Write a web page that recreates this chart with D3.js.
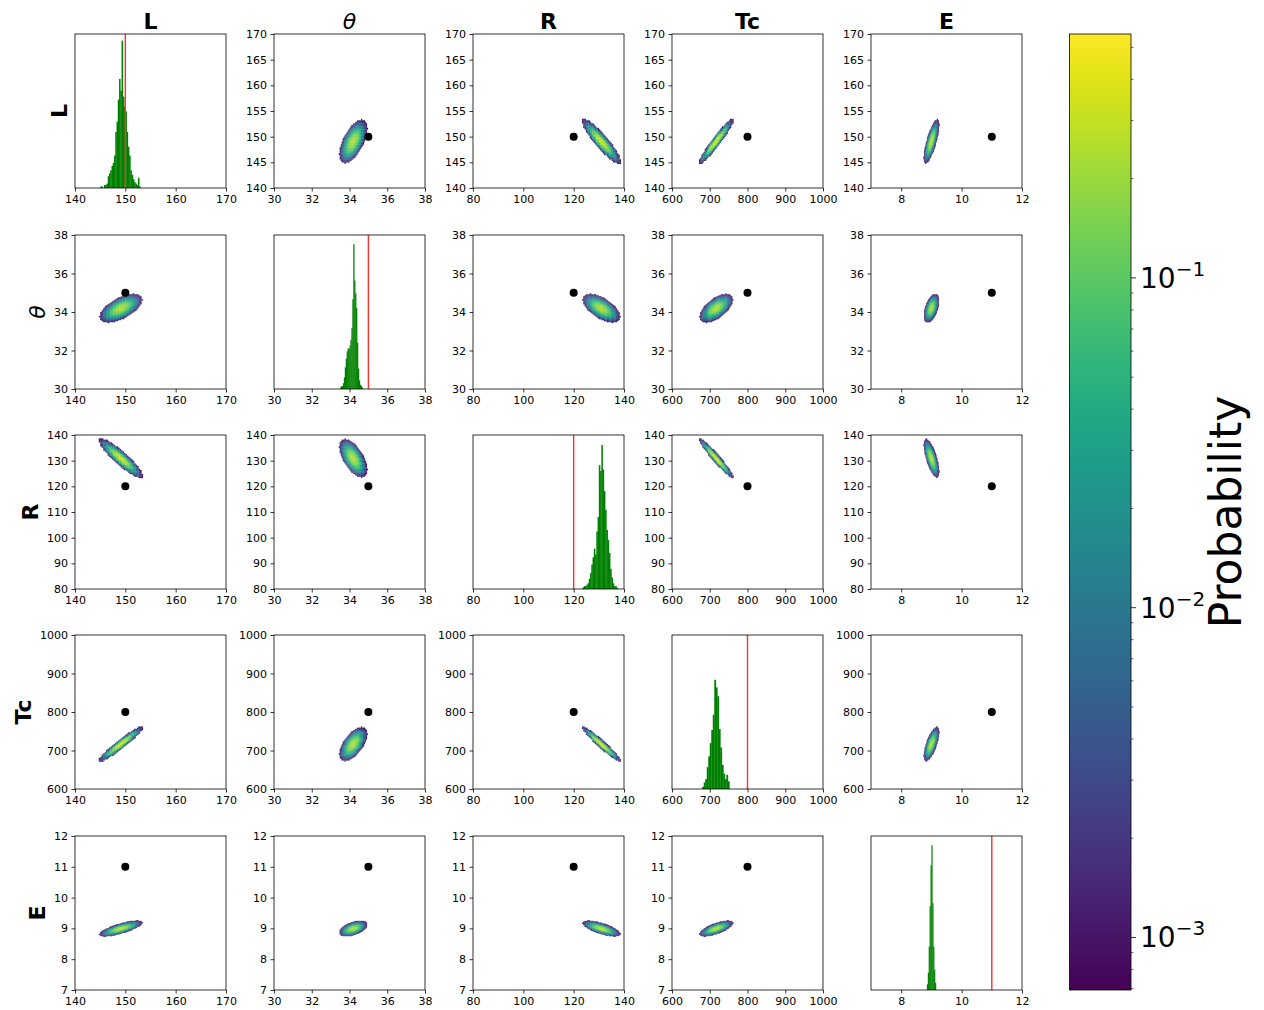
<!DOCTYPE html>
<html>
<head>
<meta charset="utf-8">
<script src="https://cdn.jsdelivr.net/npm/d3@7"></script>
<style>
  body { margin: 0; background: #fff; }
  text { font-family: "DejaVu Sans", sans-serif; }
</style>
</head>
<body>
<svg id="chart" width="1264" height="1010"></svg>
<script>
// parameter names, true values and plot limits
const names = ["L", "θ", "R", "Tc", "E"];
const truths = [150, 35, 120, 800, 11];
const limits = [[140, 170], [30, 38], [80, 140], [600, 1000], [7, 12]];
const xTicks = [[140, 150, 160, 170], [30, 32, 34, 36, 38], [80, 100, 120, 140], [600, 700, 800, 900, 1000], [8, 10, 12]];
const yTicks = [[140, 145, 150, 155, 160, 165, 170], [30, 32, 34, 36, 38], [80, 90, 100, 110, 120, 130, 140], [600, 700, 800, 900, 1000], [7, 8, 9, 10, 11, 12]];

// posterior summary (centre, spread)
const postMean = [149.1, 34.2, 131.0, 717, 9.0];
const postSd = [1.25, 0.22, 2.2, 13, 0.075];
// correlation of each pair: [i, j, rho]
const pairCorr = [
  [0, 1, 0.6], [0, 2, -0.9], [0, 3, 0.95], [0, 4, 0.75],
  [1, 2, -0.6], [1, 3, 0.6], [1, 4, 0.5],
  [2, 3, -0.96], [2, 4, -0.7],
  [3, 4, 0.7]
];

// marginal histograms (peak bin = 100)
const histStart = [145, 33.5, 123.5, 680, 8.85];
const histWidth = [0.25, 0.05, 0.5, 4, 0.03];
const histL = [1, 1, 0, 2, 2, 3, 8, 10, 12, 15, 17, 22, 38, 45, 60, 74, 66, 100, 62, 55, 52, 38, 28, 22, 12, 9, 6, 4, 3, 2, 7, 1];
const histTheta = [1, 2, 2, 4, 8, 15, 21, 26, 28, 28, 30, 34, 42, 62, 100, 75, 66, 56, 32, 14, 6, 3, 2, 1];
const histR = [1, 2, 2, 3, 4, 7, 11, 17, 22, 28, 24, 40, 50, 86, 82, 100, 83, 68, 55, 41, 34, 25, 14, 8, 4, 2, 2, 1];
const histTc = [2, 6, 9, 20, 30, 42, 54, 68, 100, 93, 85, 55, 38, 22, 14, 9, 13, 7];
const histE = [4, 12, 30, 58, 86, 100, 60, 30, 14, 5];
const histCounts = [histL, histTheta, histR, histTc, histE];
const histTop = [104.5, 106.4, 107, 141, 106.4];

// colour bar range
const probMin = 6.93e-4, probMax = 0.549;

const svg = d3.select("#chart");
const lefts = [75, 274, 473, 672, 871];
const tops = [34, 235, 435, 635, 836];
const pw = 151, ph = 154;

const color = d3.scaleSequentialLog(d3.interpolateViridis).domain([probMin, probMax]);

function corrOf(a, b) {
  const p = pairCorr.find(d => (d[0] === a && d[1] === b) || (d[0] === b && d[1] === a));
  return p[2];
}

function styleAxis(sel) {
  sel.select(".domain").remove();
  sel.selectAll("line").attr("stroke", "#000").attr("stroke-width", 0.8);
  sel.selectAll("text").attr("fill", "#000").style("font-size", "11px").style("font-family", "DejaVu Sans, sans-serif");
}

const nb = 30;

for (let r = 0; r < 5; r++) {
  for (let c = 0; c < 5; c++) {
    const g = svg.append("g").attr("transform", `translate(${lefts[c]},${tops[r]})`);
    const x = d3.scaleLinear().domain(limits[c]).range([0, pw]);

    if (r === c) {
      // marginal histogram
      const y = d3.scaleLinear().domain([0, histTop[c]]).range([ph, 0]);
      const bins = histCounts[c].map((h, k) => ({ x0: histStart[c] + k * histWidth[c], h: h }));
      g.selectAll("rect.bar").data(bins).enter().append("rect")
        .attr("class", "bar")
        .attr("x", d => x(d.x0))
        .attr("width", x(histWidth[c]) - x(0) + 0.3)
        .attr("y", d => y(d.h))
        .attr("height", d => ph - y(d.h))
        .attr("fill", "green");
      g.append("line")
        .attr("x1", x(truths[c])).attr("x2", x(truths[c]))
        .attr("y1", 0).attr("y2", ph)
        .attr("stroke", "#ff3030").attr("stroke-width", 1.4);
    } else {
      const y = d3.scaleLinear().domain(limits[r]).range([ph, 0]);
      const rho = corrOf(r, c);
      const peak = 0.22 * Math.pow(1 - rho * rho, -0.25);
      const x0 = postMean[c] - 3.5 * postSd[c], dx = 7 * postSd[c] / nb;
      const y0 = postMean[r] - 3.5 * postSd[r], dy = 7 * postSd[r] / nb;
      const cells = [];
      for (let a = 0; a < nb; a++) {
        for (let b = 0; b < nb; b++) {
          const zx = (x0 + (a + 0.5) * dx - postMean[c]) / postSd[c];
          const zy = (y0 + (b + 0.5) * dy - postMean[r]) / postSd[r];
          const q = (zx * zx - 2 * rho * zx * zy + zy * zy) / (1 - rho * rho);
          const v = peak * Math.exp(-q / 2);
          if (v >= 8e-4) cells.push({ xa: x0 + a * dx, yb: y0 + b * dy, v: v });
        }
      }
      const cw = x(x0 + dx) - x(x0);
      const ch = y(y0) - y(y0 + dy);
      g.selectAll("rect.cell").data(cells).enter().append("rect")
        .attr("class", "cell")
        .attr("x", d => x(d.xa))
        .attr("y", d => y(d.yb + dy))
        .attr("width", cw + 0.25)
        .attr("height", ch + 0.25)
        .attr("fill", d => color(Math.min(d.v, probMax)));
      g.append("circle")
        .attr("cx", x(truths[c])).attr("cy", y(truths[r]))
        .attr("r", 4).attr("fill", "#000");
      g.append("g").attr("class", "yaxis")
        .call(d3.axisLeft(y).tickValues(yTicks[r]).tickSize(3.5).tickPadding(3.5).tickFormat(d => d))
        .call(styleAxis);
    }

    g.append("g").attr("transform", `translate(0,${ph})`)
      .call(d3.axisBottom(x).tickValues(xTicks[c]).tickSize(3.5).tickPadding(4).tickFormat(d => d))
      .call(styleAxis);

    g.append("rect").attr("width", pw).attr("height", ph)
      .attr("fill", "none").attr("stroke", "#000").attr("stroke-width", 0.8);

    // row label on the first column
    if (c === 0) {
      let edge = lefts[0] - 8;
      if (r !== 0) {
        let w = 0;
        g.selectAll(".yaxis text").each(function () { w = Math.max(w, this.getComputedTextLength()); });
        edge = lefts[0] - 7 - w - 9;
      }
      svg.append("text")
        .attr("transform", `translate(${edge},${tops[r] + ph / 2}) rotate(-90)`)
        .attr("text-anchor", "middle")
        .style("font-size", "22px")
        .style("font-weight", names[r] === "θ" ? "normal" : "bold")
        .style("font-style", names[r] === "θ" ? "italic" : "normal")
        .text(names[r]);
    }
  }
}

// column titles
names.forEach((n, c) => {
  svg.append("text")
    .attr("x", lefts[c] + pw / 2).attr("y", 29)
    .attr("text-anchor", "middle")
    .style("font-size", "22px")
    .style("font-weight", n === "θ" ? "normal" : "bold")
    .style("font-style", n === "θ" ? "italic" : "normal")
    .text(n);
});

// colour bar
const cbX = 1069.5, cbW = 61.5, cbTop = 34, cbBot = 990;
const grad = svg.append("defs").append("linearGradient")
  .attr("id", "cbgrad").attr("x1", 0).attr("y1", 1).attr("x2", 0).attr("y2", 0);
d3.range(0, 1.0001, 0.05).forEach(t => {
  grad.append("stop").attr("offset", t).attr("stop-color", d3.interpolateViridis(t));
});
svg.append("rect").attr("x", cbX).attr("y", cbTop).attr("width", cbW).attr("height", cbBot - cbTop)
  .attr("fill", "url(#cbgrad)").attr("stroke", "#000").attr("stroke-width", 0.8);

const cbScale = d3.scaleLog().domain([probMin, probMax]).range([cbBot, cbTop]);
const majors = [1e-3, 1e-2, 1e-1];
const minors = [];
[-4, -3, -2, -1].forEach(e => {
  for (let m = 2; m <= 9; m++) {
    const v = m * Math.pow(10, e);
    if (v >= probMin && v <= probMax) minors.push(v);
  }
});
svg.selectAll("line.cbmin").data(minors).enter().append("line")
  .attr("x1", cbX + cbW).attr("x2", cbX + cbW + 2.5)
  .attr("y1", d => cbScale(d)).attr("y2", d => cbScale(d))
  .attr("stroke", "#000").attr("stroke-width", 0.6);
svg.selectAll("line.cbmaj").data(majors).enter().append("line")
  .attr("x1", cbX + cbW).attr("x2", cbX + cbW + 5)
  .attr("y1", d => cbScale(d)).attr("y2", d => cbScale(d))
  .attr("stroke", "#000").attr("stroke-width", 0.8);
const lab = svg.selectAll("text.cblab").data(majors).enter().append("text")
  .attr("x", cbX + cbW + 9).attr("y", d => cbScale(d) + 10)
  .style("font-size", "28px");
lab.append("tspan").text("10");
lab.append("tspan").attr("dy", -12).style("font-size", "20px")
  .text(d => "−" + Math.round(-Math.log10(d)));

svg.append("text")
  .attr("transform", `translate(1241,${(cbTop + cbBot) / 2}) rotate(-90)`)
  .attr("text-anchor", "middle")
  .style("font-size", "44px")
  .text("Probability");
</script>
</body>
</html>
